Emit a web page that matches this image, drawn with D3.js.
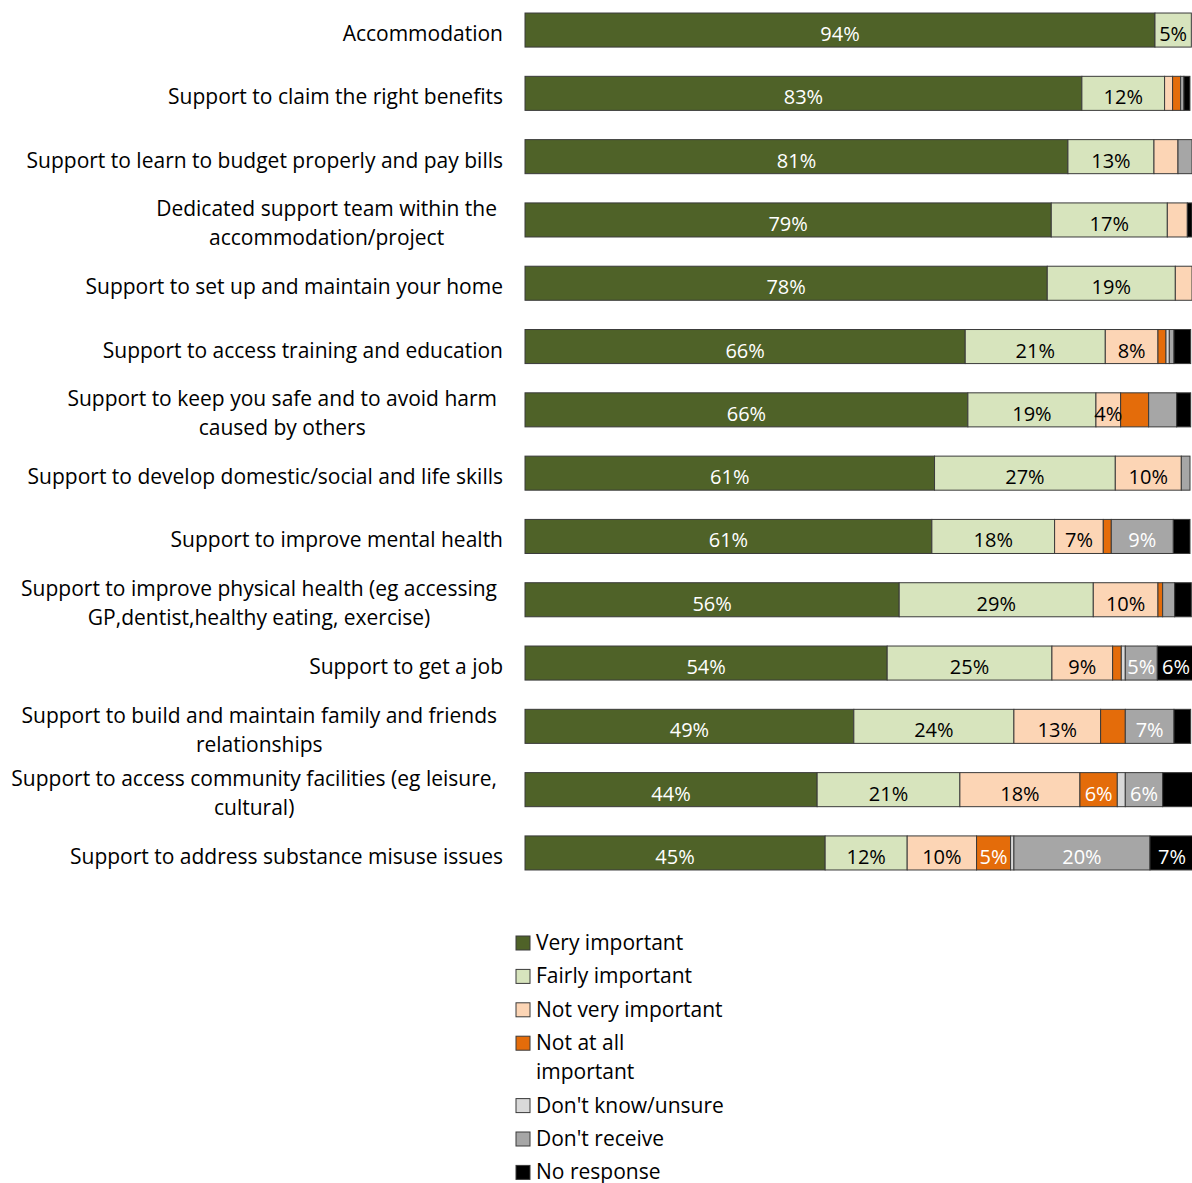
<!DOCTYPE html>
<html><head><meta charset="utf-8">
<script src="https://cdn.jsdelivr.net/npm/d3@7"></script>
<style>
html,body{margin:0;padding:0;background:#fff;}
svg{display:block;}
text{font-family:"Open Sans",sans-serif;}
</style></head>
<body>
<svg id="c" width="1192" height="1183"></svg>
<script>
const categories = [
  ["Accommodation"],
  ["Support to claim the right benefits"],
  ["Support to learn to budget properly and pay bills"],
  ["Dedicated support team within the","accommodation/project"],
  ["Support to set up and maintain your home"],
  ["Support to access training and education"],
  ["Support to keep you safe and to avoid harm","caused by others"],
  ["Support to develop domestic/social and life skills"],
  ["Support to improve mental health"],
  ["Support to improve physical health (eg accessing","GP,dentist,healthy eating, exercise)"],
  ["Support to get a job"],
  ["Support to build and maintain family and friends","relationships"],
  ["Support to access community facilities (eg leisure,","cultural)"],
  ["Support to address substance misuse issues"]
];
const seriesNames = ["Very important","Fairly important","Not very important","Not at all important","Don't know/unsure","Don't receive","No response"];
const legendLines = [["Very important"],["Fairly important"],["Not very important"],["Not at all","important"],["Don't know/unsure"],["Don't receive"],["No response"]];
const veryImportant     = [94.45, 83.49, 81.4, 78.9, 78.3, 66.0, 66.4, 61.4, 61.0, 56.1, 54.3, 49.3, 43.8, 45.0];
const fairlyImportant   = [ 5.45, 12.4, 12.9, 17.4, 19.2, 21.0, 19.2, 27.1, 18.4, 29.1, 24.7, 24.0, 21.4, 12.3];
const notVeryImportant  = [ 0.0,  1.2,  3.6,  3.0,  2.5,  7.9,  3.7,  9.9,  7.3,  9.7,  9.1, 13.0, 18.0, 10.4];
const notAtAllImportant = [ 0.0,  1.2,  0.0,  0.0,  0.0,  1.2,  4.2,  0.0,  1.2,  0.7,  1.3,  3.7,  5.6,  5.1];
const dontKnow          = [ 0.0,  0.0,  0.0,  0.0,  0.0,  0.5,  0.0,  0.0,  0.0,  0.0,  0.6,  0.0,  1.2,  0.5];
const dontReceive       = [ 0.0,  0.5,  2.1,  0.0,  0.0,  0.7,  4.2,  1.3,  9.3,  1.8,  4.8,  7.3,  5.6, 20.4];
const noResponse        = [ 0.0,  0.9,  0.0,  0.7,  0.0,  2.5,  2.1,  0.0,  2.5,  2.5,  5.6,  2.5,  4.5,  6.6];
const labelThreshold = 4.6;
const extraLabels = [[6, 2]]; // [category index, series index] labels shown below threshold

const seriesValues = [veryImportant, fairlyImportant, notVeryImportant, notAtAllImportant, dontKnow, dontReceive, noResponse];
const colors = ["#4f6228","#d7e4bd","#fcd5b5","#e46c0a","#d9d9d9","#a6a6a6","#000000"];
const labelColors = ["#fff","#000","#000","#fff","#000","#fff","#fff"];

const svg = d3.select("#c");
const x = d3.scaleLinear().domain([0,100]).range([525,1192]);
const y = d3.scaleBand().domain(d3.range(categories.length)).range([-1.6,884.6]).paddingInner(0.462).paddingOuter(0.231);

const rows = categories.map((c,i)=>{
  let acc = 0;
  return seriesValues.map((vals,s)=>{ const v = vals[i]; const seg={i,s,v,x0:acc,x1:acc+v}; acc+=v; return seg; });
});
const segs = rows.flat().filter(d=>d.v>0);

svg.append("g").selectAll("rect").data(segs).join("rect")
  .attr("x", d=>x(d.x0)).attr("width", d=>x(d.x1)-x(d.x0))
  .attr("y", d=>y(d.i)).attr("height", y.bandwidth())
  .attr("fill", d=>colors[d.s]).attr("stroke","#3a3a3a").attr("stroke-width",1);

const isShown = d => d.v >= labelThreshold || extraLabels.some(e=>e[0]===d.i && e[1]===d.s);
svg.append("g").selectAll("text").data(segs.filter(isShown)).join("text")
  .attr("x", d=>(x(d.x0)+x(d.x1))/2).attr("y", d=>y(d.i)+y.bandwidth()/2+11)
  .attr("text-anchor","middle").attr("font-size",20).attr("fill", d=>labelColors[d.s])
  .text(d=>Math.round(d.v)+"%");

// category labels
const cg = svg.append("g").attr("font-size",21).attr("fill","#000");
categories.forEach((lines,i)=>{
  const cy = y(i)+y.bandwidth()/2;
  if(lines.length===1){
    cg.append("text").attr("x",503).attr("y",cy+11).attr("text-anchor","end").text(lines[0]);
  } else {
    const g = cg.append("g");
    const ts = lines.map((t,k)=> g.append("text").attr("y", cy+4+(k-(lines.length-1)/2)*29+7).attr("text-anchor","middle").text(t));
    const w = d3.max(ts, t=>t.node().getComputedTextLength());
    ts.forEach(t=>t.attr("x", 497 - w/2));
  }
});

// legend
const lg = svg.append("g").attr("font-size",21);
let ly = 943;
legendLines.forEach((lines,s)=>{
  lg.append("rect").attr("x",516).attr("y",ly-7).attr("width",14).attr("height",14)
    .attr("fill",colors[s]).attr("stroke","#3a3a3a").attr("stroke-width",1);
  lines.forEach((t,k)=>{
    lg.append("text").attr("x",536).attr("y",ly+7+k*29).text(t);
  });
  ly += 33.4 + (lines.length-1)*29;
});
</script>
</body></html>
